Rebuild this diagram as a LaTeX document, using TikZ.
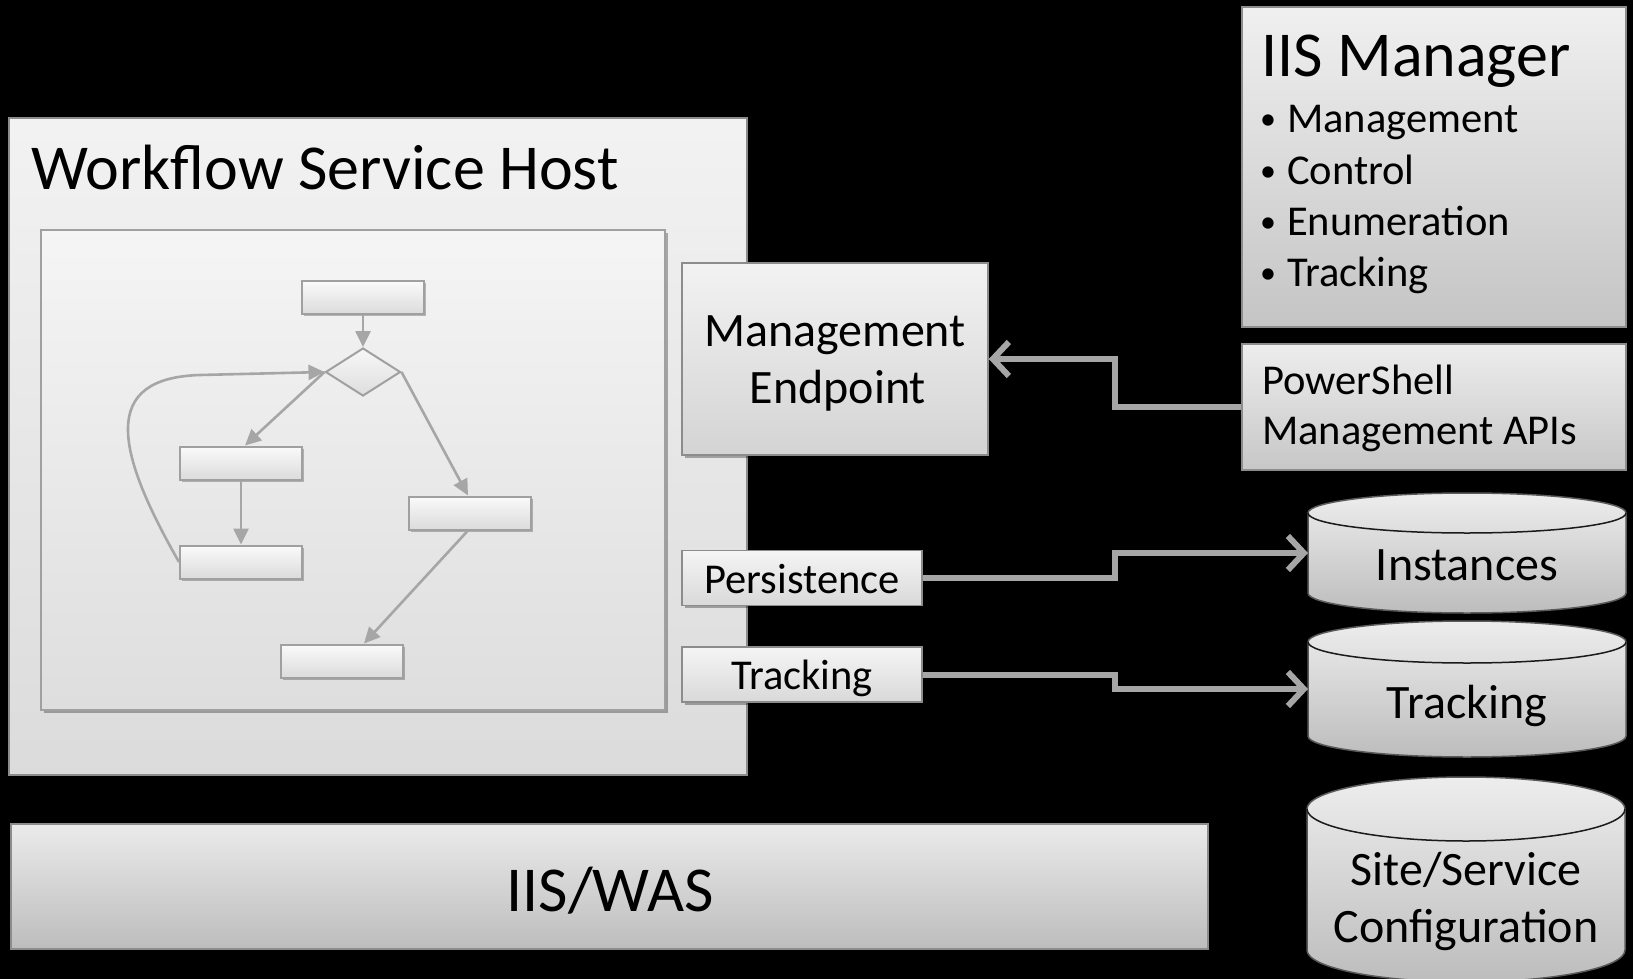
\documentclass[tikz,border=0pt]{standalone}
\usepackage{fontspec}
\setmainfont{Carlito}
\usetikzlibrary{arrows.meta,shadows,calc,shapes.geometric}
\definecolor{bordergray}{HTML}{8C8C8C}
\definecolor{fborder}{HTML}{A0A0A0}
\definecolor{arrowgray}{HTML}{A6A6A6}
\definecolor{cyledge}{HTML}{5A5A5A}
\definecolor{cylarc}{HTML}{1A1A1A}
\newcommand\fsBig{\fontsize{64}{77}\selectfont}
\newcommand\fsMed{\fontsize{48}{57}\selectfont}
\newcommand\fsSmall{\fontsize{42.5}{51}\selectfont}
\newcommand\fsWas{\fontsize{64}{77}\selectfont}
\newcommand\bul{\makebox[27pt][l]{\raisebox{3pt}{\fontsize{32}{32}\selectfont •}}}
% \dbcyl{L}{R}{top}{bottom}{ry}{rx}
\newcommand\dbcyl[6]{%
  \path[draw=cyledge,line width=1.5pt,top color=white!93!black,bottom color=white!74!black]
    (#1,#3) -- (#1,#4) arc[start angle=180,end angle=360,x radius=#6pt,y radius=#5pt]
    -- (#2,#3) arc[start angle=0,end angle=180,x radius=#6pt,y radius=#5pt] -- cycle;
  \draw[cylarc,line width=1.5pt] (#2,#3) arc[start angle=0,end angle=-180,x radius=#6pt,y radius=#5pt];
}
\tikzset{
  gbox/.style={draw=bordergray,line width=1.5pt,inner sep=0pt,
    drop shadow={shadow xshift=2.5pt,shadow yshift=-2.5pt,opacity=0.3,fill=black}},
  fbox/.style={draw=fborder,line width=2pt,inner sep=0pt,top color=white!98!black,bottom color=white!86!black,
    minimum width=122pt,minimum height=33pt,
    drop shadow={shadow xshift=2pt,shadow yshift=-2pt,opacity=0.25,fill=black}},
  farrow/.style={draw=arrowgray,line width=2.6pt,-{Triangle[length=16pt,width=15pt]}},
  bigarrow/.style={draw=arrowgray,line width=6pt,-{Straight Barb[length=16pt,width=34pt]}},
  lbl/.style={inner sep=0pt,text=black},
  hold/.style={inner sep=0pt,outer sep=0pt}
}
\begin{document}
\begin{tikzpicture}[x=1pt,y=-1pt]
\fill[black] (0,0) rectangle (1633,979);
\useasboundingbox (0,0) rectangle (1633,979);

% Workflow Service Host
\node[gbox,top color=white!95!black,bottom color=white!86!black,minimum width=738pt,minimum height=657pt] (wsh) at (378,446.5) {};
\node[lbl,anchor=base west,font=\fsBig] (wshtitle) at (31,189) {Workflow Service Host};
\node[gbox,draw=fborder,top color=white!96!black,bottom color=white!87!black,minimum width=624pt,minimum height=480pt] (inner) at (353,470) {};

% flowchart
\node[fbox] (ftop) at (363,297.5) {};
\node[diamond,draw=fborder,line width=2pt,inner sep=0pt,minimum width=75pt,minimum height=48pt,
      top color=white!97!black,bottom color=white!87!black] (dia) at (363,372) {};
\node[fbox] (fb1) at (241,463) {};
\node[fbox] (fb2) at (241,562) {};
\node[fbox] (fr) at (470,513) {};
\node[fbox] (fbot) at (342,661) {};
\draw[farrow] (ftop.south) -- (dia.north);
\draw[farrow] (dia.west) -- ([xshift=4pt]fb1.north);
\draw[farrow] (fb1.south) -- (fb2.north);
\draw[farrow] (dia.east) -- ([xshift=-2pt]fr.north);
\draw[farrow] ([xshift=-2pt]fr.south) -- ([xshift=22pt]fbot.north);
\draw[farrow] (fb2.west) .. controls (115,450) and (100,378) .. (200,375) -- (dia.west);

% Management endpoint, persistence, tracking
\node[gbox,top color=white!95!black,bottom color=white!83!black,minimum width=306pt,minimum height=192pt] (me) at (835,359) {};
\node[lbl,anchor=base,font=\fsMed] (metxt1) at (835,346) {Management};
\node[lbl,anchor=base,font=\fsMed] (metxt2) at (838,403) {Endpoint};
\node[gbox,top color=white!96!black,bottom color=white!85!black,minimum width=240pt,minimum height=55pt] (pers) at (802,578) {};
\node[lbl,anchor=base,font=\fsSmall] (perstxt) at (802,593.5) {Persistence};
\node[gbox,top color=white!96!black,bottom color=white!85!black,minimum width=240pt,minimum height=55pt] (trk) at (802,674.5) {};
\node[lbl,anchor=base,font=\fsSmall] (trktxt) at (802,689.5) {Tracking};

% IIS Manager
\node[gbox,top color=white!94!black,bottom color=white!77!black,minimum width=384pt,minimum height=320pt] (iism) at (1434,167) {};
\node[lbl,anchor=base west,font=\fsBig] (iistitle) at (1261,77) {IIS Manager};
\node[lbl,anchor=base west,font=\fsSmall] (b1) at (1260,133) {\bul Management};
\node[lbl,anchor=base west,font=\fsSmall] (b2) at (1260,184) {\bul Control};
\node[lbl,anchor=base west,font=\fsSmall] (b3) at (1260,235) {\bul Enumeration};
\node[lbl,anchor=base west,font=\fsSmall] (b4) at (1260,286) {\bul Tracking};

% PowerShell
\node[gbox,top color=white!93!black,bottom color=white!78!black,minimum width=384pt,minimum height=126pt] (ps) at (1434,407) {};
\node[lbl,anchor=base west,font=\fsSmall] (pstxt1) at (1262,394) {PowerShell};
\node[lbl,anchor=base west,font=\fsSmall] (pstxt2) at (1262,444) {Management APIs};

% IIS/WAS
\node[gbox,top color=white!92!black,bottom color=white!74!black,minimum width=1197pt,minimum height=125pt] (was) at (609.5,886.5) {};
\node[lbl,anchor=base,font=\fsWas] (wastxt) at (610,911) {IIS/WAS};

% cylinders
\dbcyl{1308}{1626}{513}{593}{20}{159}
\node[hold,minimum width=318pt,minimum height=120pt] (inst) at (1467,553) {};
\node[lbl,anchor=base,font=\fsMed] (insttxt) at (1467,580) {Instances};
\dbcyl{1308}{1626}{642}{736}{21}{159}
\node[hold,minimum width=318pt,minimum height=136pt] (trkdb) at (1467,689) {};
\node[lbl,anchor=base,font=\fsMed] (trkdbtxt) at (1467,718.5) {Tracking};
\dbcyl{1307}{1625}{809}{950}{32}{159}
\node[hold,minimum width=318pt,minimum height=205pt] (site) at (1466,879.5) {};
\node[lbl,anchor=base,font=\fsMed] (sitetxt1) at (1466,885) {Site/Service};
\node[lbl,anchor=base,font=\fsMed] (sitetxt2) at (1466,942.5) {Configuration};

% connectors
\draw[bigarrow] (ps.west) -| ($(ps.west)!0.5!(me.east)$) |- (me.east);
\draw[bigarrow] (pers.east) -| ($(pers.east)!0.5!(inst.west)$) |- (inst.west);
\draw[bigarrow] (trk.east) -| ($(trk.east)!0.5!(trkdb.west)$) |- (trkdb.west);
\end{tikzpicture}
\end{document}
